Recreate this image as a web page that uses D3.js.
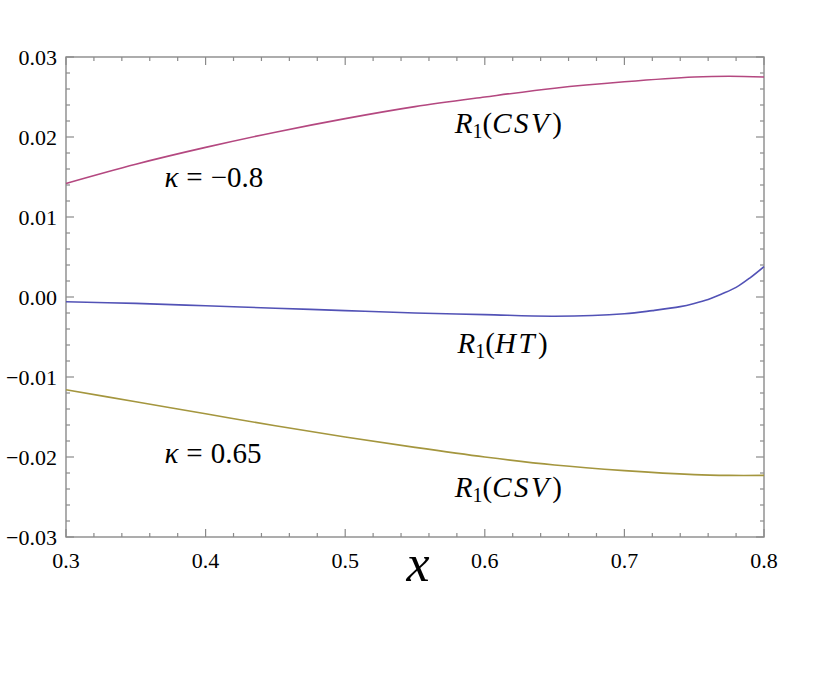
<!DOCTYPE html>
<html>
<head>
<meta charset="utf-8">
<script src="https://cdn.jsdelivr.net/npm/d3@7"></script>
<style>
  body { margin: 0; background: #fff; }
</style>
</head>
<body>
<svg id="chart" width="830" height="692"></svg>
<script>
// sample points
var xs = [0.30, 0.35, 0.40, 0.45, 0.50, 0.55, 0.60, 0.65, 0.70, 0.75, 0.775, 0.80];
var csvNeg = [0.0142, 0.0166, 0.0187, 0.0206, 0.0223, 0.0238, 0.0250, 0.0261, 0.0269, 0.0275, 0.0276, 0.0275];
var csvPos = [-0.0116, -0.0131, -0.0146, -0.0161, -0.0175, -0.0188, -0.0200, -0.0210, -0.0217, -0.0222, -0.0223, -0.0223];

var xsHT = [0.30, 0.35, 0.40, 0.45, 0.50, 0.55, 0.60, 0.65, 0.70, 0.72, 0.74, 0.75, 0.76, 0.77, 0.78, 0.79, 0.80];
var ht = [-0.0006, -0.0008, -0.0011, -0.0014, -0.0017, -0.0020, -0.0022, -0.0024, -0.0021, -0.0017, -0.0012, -0.0008, -0.0003, 0.0004, 0.0012, 0.0024, 0.0038];

var xTicks = [0.3, 0.4, 0.5, 0.6, 0.7, 0.8];
var yTicks = [-0.03, -0.02, -0.01, 0.00, 0.01, 0.02, 0.03];

var FONT = "Liberation Serif";
var svg = d3.select("#chart");
var plotL = 66, plotR = 764, plotT = 57, plotB = 537;

var x = d3.scaleLinear().domain([0.3, 0.8]).range([plotL, plotR]);
var y = d3.scaleLinear().domain([-0.03, 0.03]).range([plotB, plotT]);

var frameColor = "#8a8a8a";

// ticks on all four sides, pointing inward
var xMinor = d3.range(0.30, 0.8001, 0.02);
var yMinor = d3.range(-0.03, 0.03001, 0.002);

function isMajor(v, step) {
  return Math.abs(v / step - Math.round(v / step)) < 1e-6;
}

var g = svg.append("g");
xMinor.forEach(function(v) {
  var len = isMajor(v, 0.1) ? 8 : 4;
  g.append("line").attr("x1", x(v)).attr("x2", x(v)).attr("y1", plotB).attr("y2", plotB - len);
  g.append("line").attr("x1", x(v)).attr("x2", x(v)).attr("y1", plotT).attr("y2", plotT + len);
});
yMinor.forEach(function(v) {
  var len = isMajor(v, 0.01) ? 8 : 4;
  g.append("line").attr("y1", y(v)).attr("y2", y(v)).attr("x1", plotL).attr("x2", plotL + len);
  g.append("line").attr("y1", y(v)).attr("y2", y(v)).attr("x1", plotR).attr("x2", plotR - len);
});
g.selectAll("line").attr("stroke", frameColor).attr("stroke-width", 1.2);

svg.append("rect")
  .attr("x", plotL).attr("y", plotT)
  .attr("width", plotR - plotL).attr("height", plotB - plotT)
  .attr("fill", "none").attr("stroke", frameColor).attr("stroke-width", 1.4);

// tick labels
svg.append("g").selectAll("text")
  .data(xTicks)
  .enter()
  .append("text")
  .attr("font-family", FONT)
  .attr("x", function(d){ return x(d); })
  .attr("y", 568)
  .attr("text-anchor", "middle")
  .attr("font-size", 22)
  .text(function(d){ return d3.format(".1f")(d); });

svg.append("g").selectAll("text")
  .data(yTicks)
  .enter()
  .append("text")
  .attr("font-family", FONT)
  .attr("x", 57)
  .attr("y", function(d){ return y(d) + 8; })
  .attr("text-anchor", "end")
  .attr("font-size", 22)
  .text(function(d){ return d3.format(".2f")(d).replace("-", "\u2212"); });

// axis title
svg.append("text")
  .attr("font-family", FONT)
  .attr("x", 418).attr("y", 581)
  .attr("text-anchor", "middle")
  .attr("font-size", 52)
  .attr("font-style", "italic")
  .text("x");

// curves
var line = d3.line()
  .x(function(d){ return x(d[0]); })
  .y(function(d){ return y(d[1]); })
  .curve(d3.curveCatmullRom.alpha(0.5));

var curves = [
  {xs: xs, ys: csvNeg, color: "rgb(180,72,128)"},
  {xs: xsHT, ys: ht, color: "rgb(82,82,182)"},
  {xs: xs, ys: csvPos, color: "rgb(164,150,62)"}
];

svg.append("g").selectAll("path")
  .data(curves)
  .enter()
  .append("path")
  .attr("d", function(d){ return line(d.xs.map(function(v, i){ return [v, d.ys[i]]; })); })
  .attr("fill", "none")
  .attr("stroke", function(d){ return d.color; })
  .attr("stroke-width", 1.6);

// annotations
function rLabel(px, py, arg) {
  var t = svg.append("text").attr("font-family", FONT).attr("x", px).attr("y", py).attr("font-size", 29);
  t.append("tspan").attr("font-style", "italic").text("R");
  t.append("tspan").attr("font-size", 20).attr("dy", 5).text("1");
  t.append("tspan").attr("dy", -5).text("(");
  t.append("tspan").attr("font-style", "italic").attr("letter-spacing", 2.5).text(arg);
  t.append("tspan").attr("dx", 1).text(")");
}
function kLabel(px, py, val) {
  var t = svg.append("text").attr("font-family", FONT).attr("x", px).attr("y", py).attr("font-size", 29);
  t.append("tspan").attr("font-style", "italic").text("\u03ba");
  t.append("tspan").attr("dx", 8).text("=");
  t.append("tspan").attr("dx", 8).text(val);
}

rLabel(x(0.5785), y(0.0205), "CSV");
kLabel(x(0.3705), y(0.0138), "\u22120.8");
rLabel(x(0.5805), y(-0.0070), "HT");
kLabel(x(0.3705), y(-0.0208), "0.65");
rLabel(x(0.5785), y(-0.0250), "CSV");
</script>
</body>
</html>
